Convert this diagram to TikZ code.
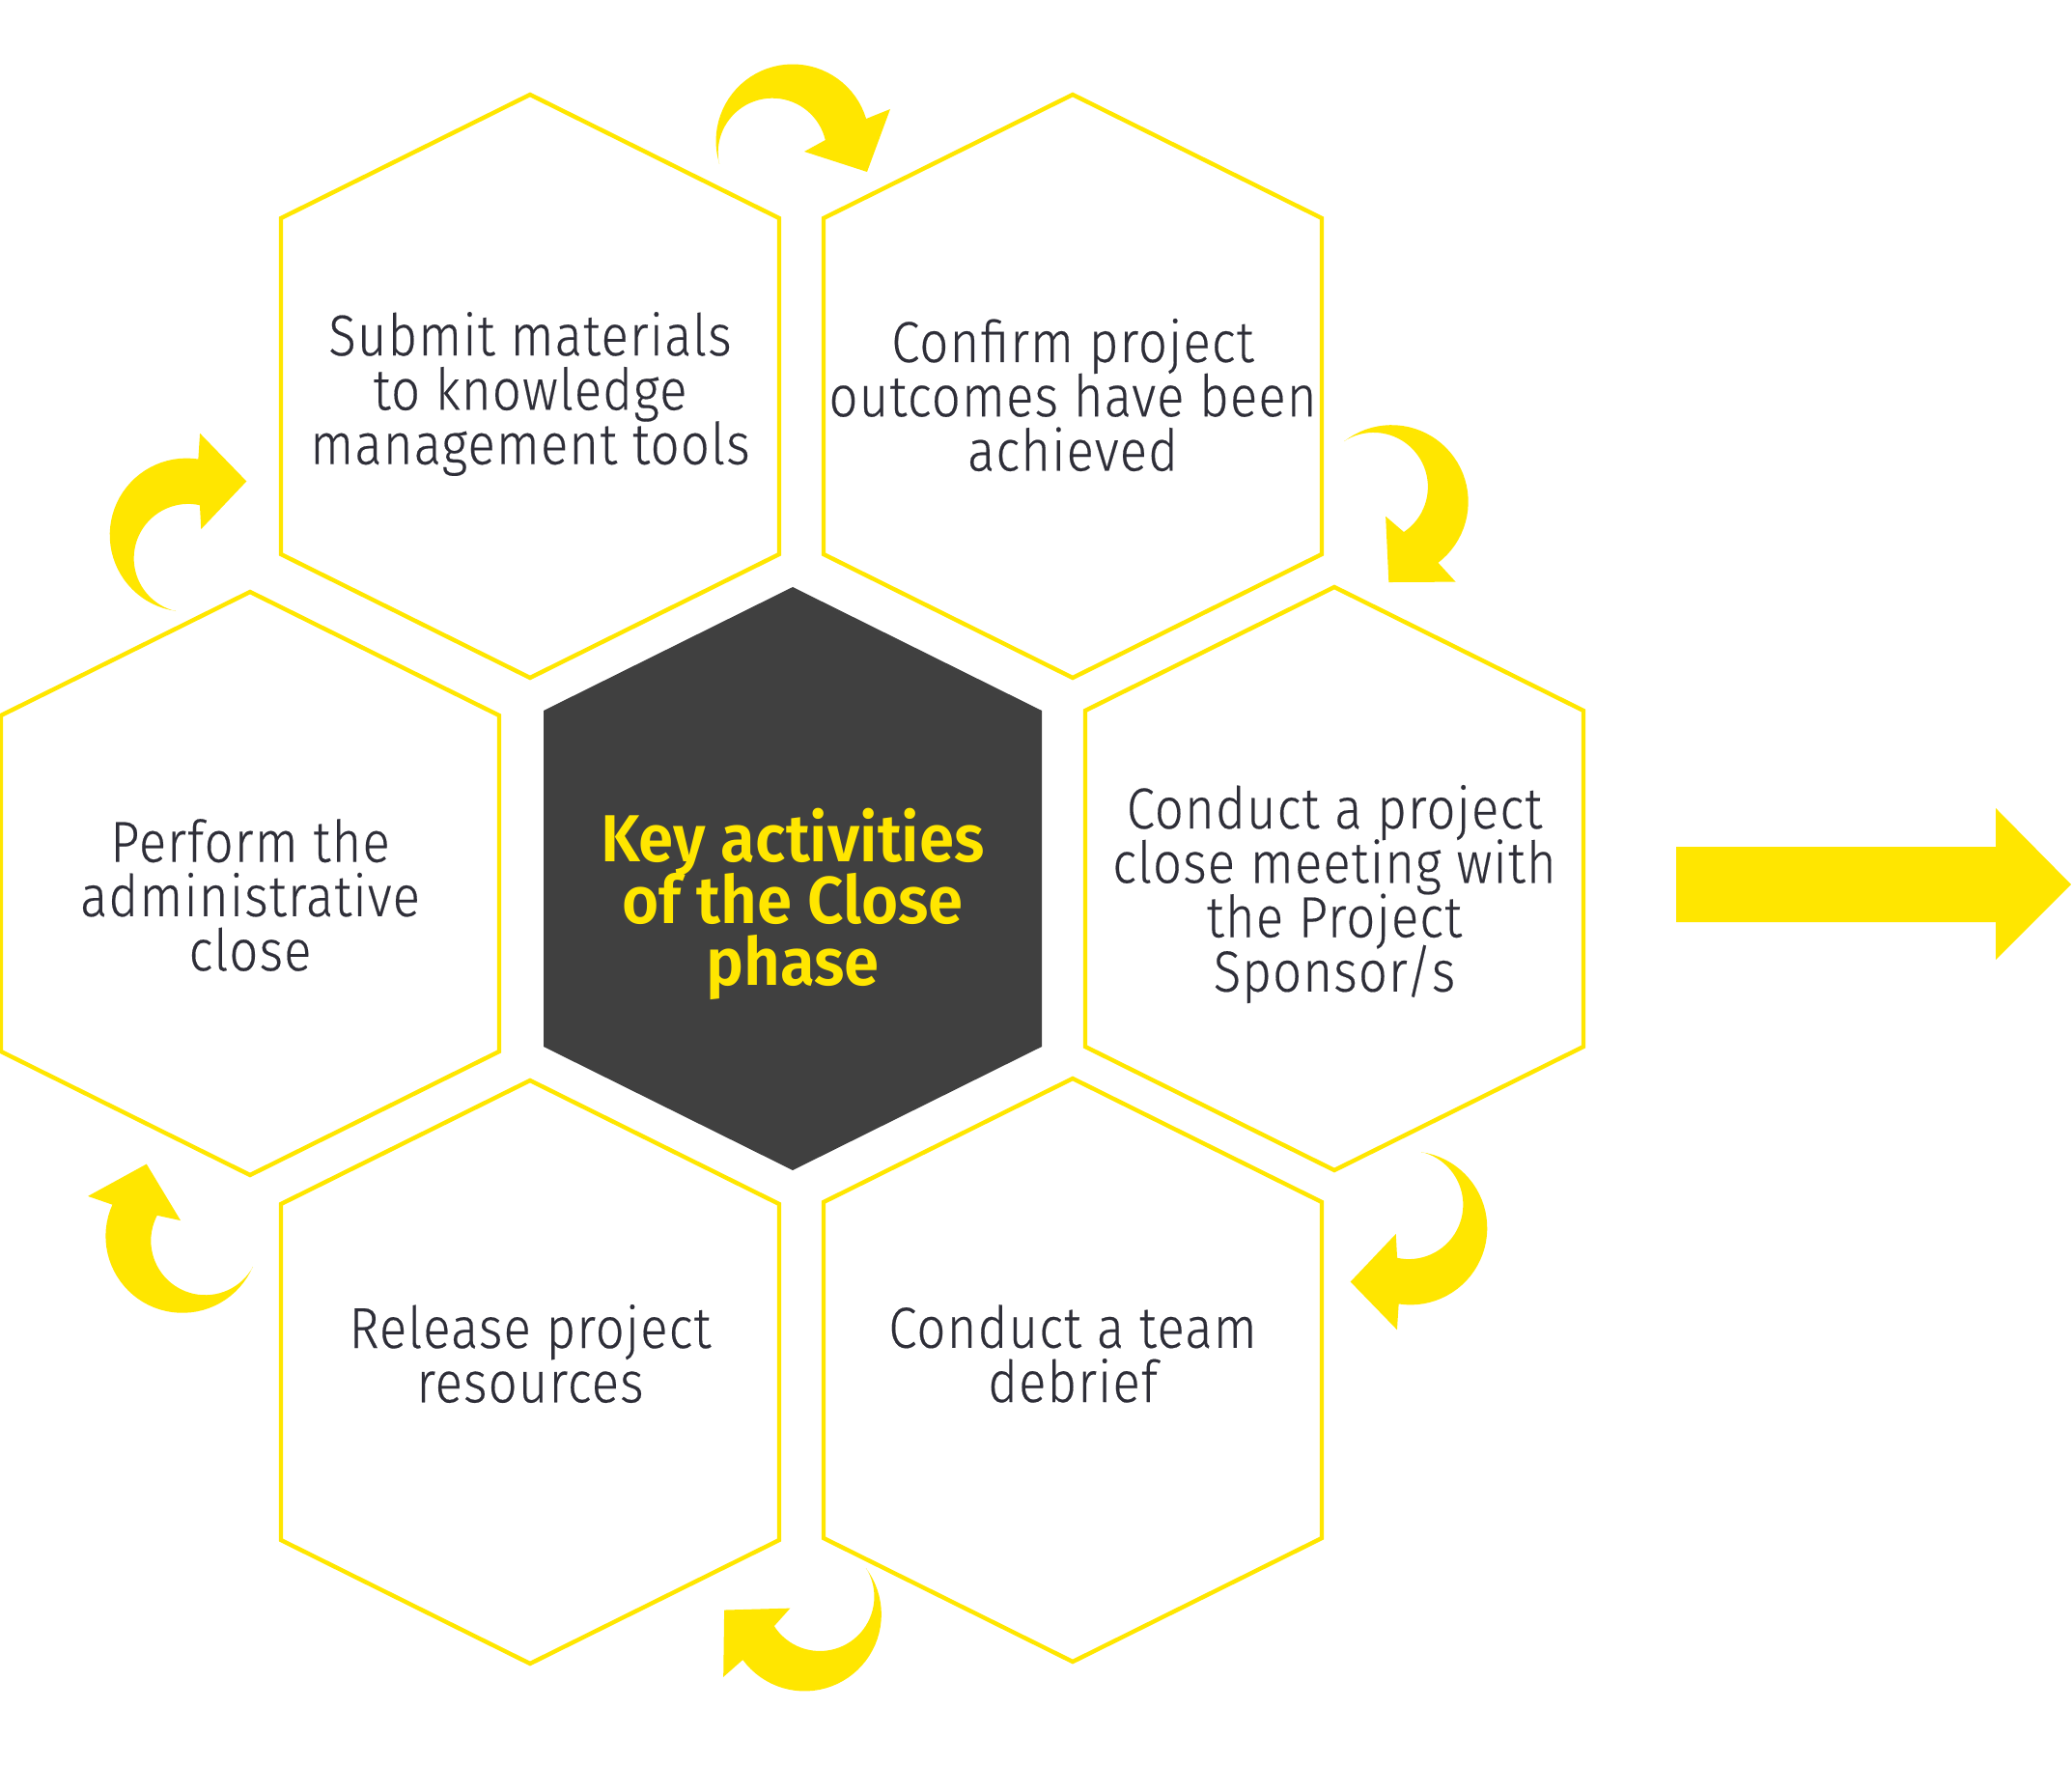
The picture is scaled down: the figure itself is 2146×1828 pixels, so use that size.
\documentclass[tikz,border=0pt]{standalone}
\usepackage{fontspec}
\setmainfont{Fira Sans Light}[FakeStretch=0.88, LetterSpace=2, FakeBold=0.3]
\newfontfamily\headfont{Fira Sans SemiBold}[FakeStretch=0.95]
\lineskiplimit=-50pt
\lineskip=0pt
\definecolor{eyyellow}{HTML}{FFE600}
\definecolor{eydark}{HTML}{404040}
\definecolor{eytext}{HTML}{2E2E38}
\tikzset{
  cellline/.style={draw=eyyellow, line width=1.25pt, line join=miter},
  cellfill/.style={fill=eydark},
  arrowfill/.style={fill=eyyellow},
  celltext/.style={align=center, text=eytext, inner sep=0pt,
    font=\fontsize{17}{16}\selectfont},
  headtext/.style={align=center, text=eyyellow, inner sep=0pt,
    font=\headfont\fontsize{19.6}{18.2}\selectfont},
  % hexagonal cell, pointy top, centred on the pic origin
  pics/hexcell/.style={code={
    \path[#1] (0,-302) -- (258,-174) -- (258,174) -- (0,302)
      -- (-258,174) -- (-258,-174) -- cycle;}},
  % curved arrow: tapering crescent tail at the origin, head to the right
  pics/turnarrow/.style={code={
    \path[arrowfill] (0,0)
      -- plot[domain=162.5:343.2, samples=40] ({76+79.5*cos(\x)},{-24+79.5*sin(\x)})
      -- (177,-57) -- (153,8) -- (88,-13)
      -- plot[domain=346.7:167.7, samples=40] ({55+56.3*cos(\x)},{-12+56.3*sin(\x)})
      -- cycle;}},
}
\begin{document}
\begin{tikzpicture}[x=0.01cm, y=-0.01cm]
\useasboundingbox (0,0) rectangle (2146,1828);

% cell centres
\coordinate (hTL) at (549,400);
\coordinate (hTR) at (1111,400);
\coordinate (hC)  at (821,910);
\coordinate (hL)  at (259,915);
\coordinate (hR)  at (1382,910);
\coordinate (hBL) at (549,1421);
\coordinate (hBR) at (1111,1419);

% cells
\pic (cellTL) at (hTL) {hexcell=cellline};
\pic (cellTR) at (hTR) {hexcell=cellline};
\pic (cellL)  at (hL)  {hexcell=cellline};
\pic (cellR)  at (hR)  {hexcell=cellline};
\pic (cellBL) at (hBL) {hexcell=cellline};
\pic (cellBR) at (hBR) {hexcell=cellline};
\pic (cellC)  at (hC)  {hexcell=cellfill};

% cell labels
\node[headtext] (tC) at (821,936) {Key activities\\of the Close\\phase};
\node[celltext] (tTL) at (549,408) {Submit materials\\to knowledge\\management tools};
\node[celltext] (tTR) at (1111,409) {Confirm project\\outcomes have been\\achieved};
\node[celltext] (tR) at (1382,926) {Conduct a project\\close meeting with\\the Project\\Sponsor/s};
\node[celltext] (tBR) at (1111,1402) {Conduct a team\\debrief};
\node[celltext] (tBL) at (549,1402) {Release project\\resources};
\node[celltext] (tL) at (259,927) {Perform the\\administrative\\close};

% clockwise turning arrows between the cells
\pic[shift={(745,170)}] {turnarrow};
\pic[shift={(1392,457)}, rotate=-69.4] {turnarrow};
\pic[shift={(1472,1193)}, rotate=-115.6] {turnarrow};
\pic[shift={(897,1624)}, rotate=-160.5] {turnarrow};
\pic[shift={(262,1312)}, rotate=-221] {turnarrow};
\pic[shift={(182,633)}, rotate=-295.6] {turnarrow};

% outgoing arrow
\fill[eyyellow] (1736,877) -- (2067,877) -- (2067,837) -- (2145,916)
  -- (2067,994) -- (2067,955) -- (1736,955) -- cycle;
\end{tikzpicture}
\end{document}
